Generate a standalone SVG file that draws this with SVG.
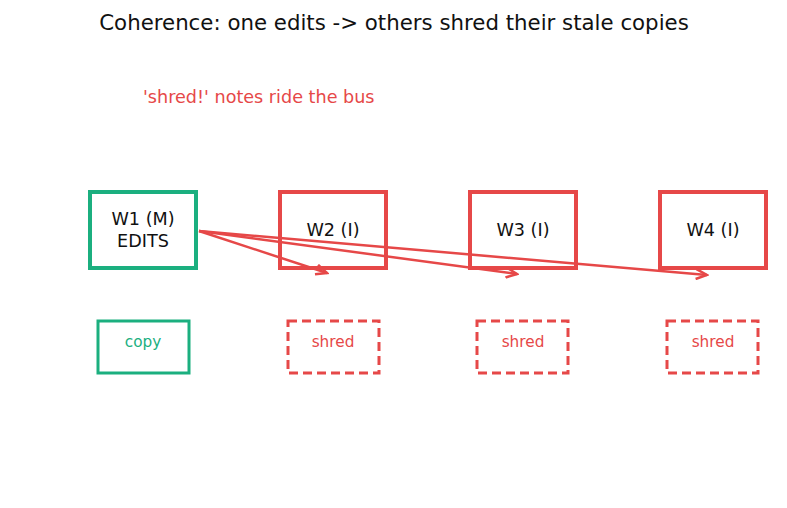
<svg xmlns="http://www.w3.org/2000/svg" width="787" height="508" viewBox="0 0 787 508">
<style>
text{font-family:"DejaVu Sans",sans-serif}
.node{fill:#fff;stroke-width:4}
.g{stroke:#1baf7f}
.r{stroke:#e64848}
.lbl{font-size:17.6px;fill:#111;text-anchor:middle}
.small{fill:#fff;stroke-width:3}
.dash{stroke-dasharray:9 5}
.st{font-size:15.3px;text-anchor:middle}
.conn{stroke:#e64848;stroke-width:2.5;fill:none}
</style>
<defs>
<marker id="arr" markerWidth="14" markerHeight="12" refX="12" refY="6" orient="auto" markerUnits="userSpaceOnUse">
<path d="M1,1 L12,6 L1,11" fill="none" stroke="#e64848" stroke-width="2.5"/>
</marker>
</defs>
<rect width="787" height="508" fill="#fff"/>
<text x="394" y="30" font-size="21.3" fill="#111" text-anchor="middle">Coherence: one edits -&gt; others shred their stale copies</text>
<text x="143" y="103" font-size="17.6" fill="#e64848">'shred!' notes ride the bus</text>
<g id="W1"><rect class="node g" x="90" y="192" width="106" height="76"/><text class="lbl" x="143" y="225">W1 (M)</text><text class="lbl" x="143" y="247">EDITS</text></g>
<g id="W2"><rect class="node r" x="280" y="192" width="106" height="76"/><text class="lbl" x="333" y="236">W2 (I)</text></g>
<g id="W3"><rect class="node r" x="470" y="192" width="106" height="76"/><text class="lbl" x="523" y="236">W3 (I)</text></g>
<g id="W4"><rect class="node r" x="660" y="192" width="106" height="76"/><text class="lbl" x="713" y="236">W4 (I)</text></g>
<g id="copy1"><rect class="small g" x="98" y="321" width="91" height="52"/><text class="st" x="143" y="347" fill="#1baf7f">copy</text></g>
<g id="shred2"><rect class="small r dash" x="288" y="321" width="91" height="52"/><text class="st" x="333" y="347" fill="#e64848">shred</text></g>
<g id="shred3"><rect class="small r dash" x="477" y="321" width="91" height="52"/><text class="st" x="523" y="347" fill="#e64848">shred</text></g>
<g id="shred4"><rect class="small r dash" x="667" y="321" width="91" height="52"/><text class="st" x="713" y="347" fill="#e64848">shred</text></g>
<g id="connectors">
<line class="conn" x1="199" y1="231" x2="327" y2="273" marker-end="url(#arr)"/>
<line class="conn" x1="199" y1="231" x2="517" y2="274" marker-end="url(#arr)"/>
<line class="conn" x1="199" y1="231" x2="707" y2="275" marker-end="url(#arr)"/>
</g>
</svg>
